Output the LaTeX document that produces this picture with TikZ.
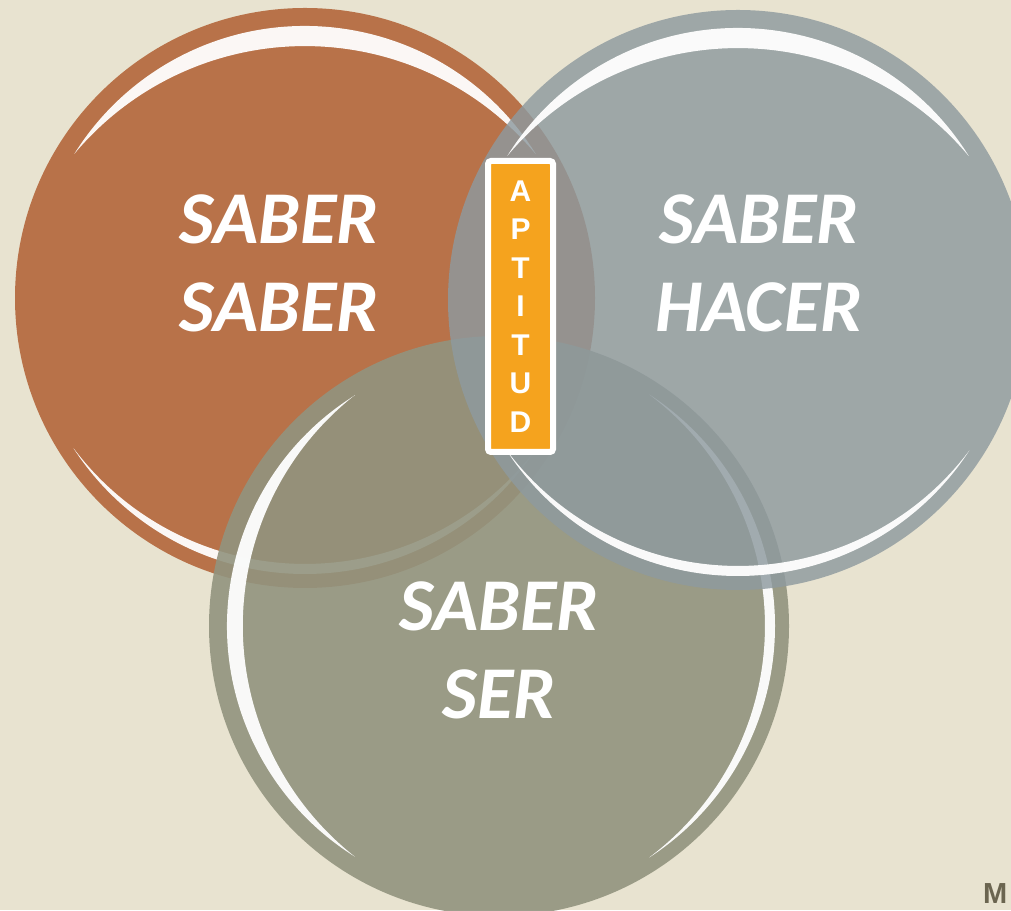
\documentclass[tikz,border=0pt]{standalone}
\usepackage{fontspec}
\setmainfont{Carlito}
\newfontfamily\boxfont{Liberation Sans}

\definecolor{paper}{HTML}{E8E3D0}
\definecolor{rust}{HTML}{B87249}
\definecolor{slate}{HTML}{8E9A9F}
\definecolor{sage}{HTML}{92947F}
\definecolor{amber}{HTML}{F5A31E}
\definecolor{inkgrey}{HTML}{6B6550}

\tikzset{
  glint/.style={fill=white, fill opacity=0.95},
  word/.style={text=white, align=center, inner sep=0pt,
    font=\fontsize{74.5}{88}\selectfont\bfseries\itshape},
  letters/.style={draw=white, line width=6pt, fill=amber, rounded corners=3pt,
    minimum width=65pt, minimum height=291pt, inner sep=0pt, text=white,
    align=center, font=\boxfont\fontsize{30}{38.5}\selectfont\bfseries}
}

% highlight crescents: centre, direction
\newcommand{\thickglint}[2]{%
  \fill[glint] (#1) ++({#2-58}:272pt) arc[start angle={#2-58}, end angle={#2+58}, radius=272pt]
    arc[start angle={#2+50.1}, end angle={#2-50.1}, radius=300.6pt] -- cycle;}
\newcommand{\midglint}[2]{%
  \fill[glint] (#1) ++({#2-58}:272pt) arc[start angle={#2-58}, end angle={#2+58}, radius=272pt]
    arc[start angle={#2+51.8}, end angle={#2-51.8}, radius=293.7pt] -- cycle;}
\newcommand{\thinglint}[2]{%
  \fill[glint] (#1) ++({#2-57}:276pt) arc[start angle={#2-57}, end angle={#2+57}, radius=276pt]
    arc[start angle={#2+53.1}, end angle={#2-53.1}, radius=289.4pt] -- cycle;}

\begin{document}
\begin{tikzpicture}[x=1pt,y=1pt]
  \useasboundingbox (0,0) rectangle (1011,910);
  \fill[paper] (0,0) rectangle (1011,910);
  \coordinate (cl) at (305,612);
  \coordinate (cr) at (738,610);
  \coordinate (cb) at (499,284);

  \fill[rust] (cl) circle[radius=290pt];
  \thickglint{cl}{90}
  \thinglint{cl}{270}
  \fill[sage, fill opacity=0.9] (cb) circle[radius=290pt];
  \midglint{cb}{180}
  \thinglint{cb}{0}
  \fill[slate, fill opacity=0.82] (cr) circle[radius=290pt];
  \thickglint{cr}{90}
  \thinglint{cr}{270}

  \node[word] (saber) at (279,646.5) {SABER\\SABER};
  \node[word] (hacer) at (759,646.5) {SABER\\HACER};
  \node[word] (ser) at (499,259.5) {SABER\\SER};
  \node[letters] (aptitud) at (520.5,603.5) {A\\P\\T\\I\\T\\U\\D};
  \node[anchor=base west, inner sep=0pt, text=inkgrey,
    font=\boxfont\fontsize{29}{29}\selectfont\bfseries] (mark) at (983,7) {M};
\end{tikzpicture}
\end{document}
